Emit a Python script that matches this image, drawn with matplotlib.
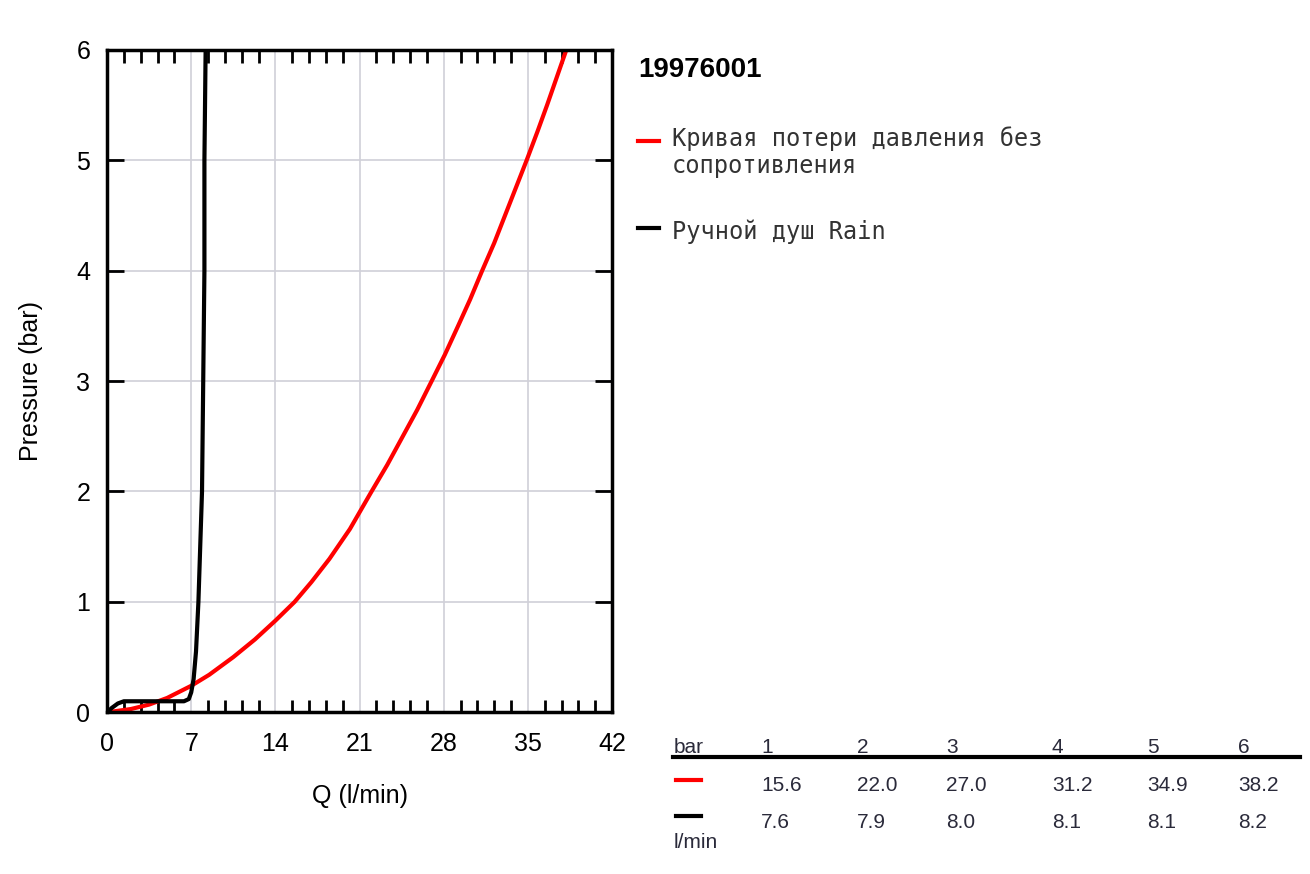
import matplotlib
matplotlib.use("Agg")
import matplotlib.pyplot as plt
from matplotlib.ticker import MultipleLocator

plt.rcParams["font.family"] = ["Liberation Sans", "DejaVu Sans"]

red_q = [0, 2, 3.5, 5, 7, 8.5, 10.5, 12.3, 14, 15.6, 17, 18.5, 20.2, 22, 23.3, 24.5, 25.8, 27, 28.1, 29.2, 30.2, 31.2, 32.2, 33.1, 34.0, 34.9, 35.8, 36.6, 37.4, 38.2]
red_p = [0, 0.03, 0.07, 0.13, 0.24, 0.34, 0.5, 0.66, 0.83, 1.0, 1.18, 1.39, 1.66, 2.0, 2.24, 2.48, 2.74, 3.0, 3.24, 3.5, 3.74, 4.0, 4.25, 4.5, 4.75, 5.0, 5.26, 5.5, 5.75, 6.0]
blk_q = [0, 0.4, 0.9, 1.4, 2.0, 6.4, 6.8, 7.0, 7.2, 7.4, 7.6, 7.9, 8.0, 8.1, 8.1, 8.2]
blk_p = [0, 0.04, 0.08, 0.1, 0.1, 0.1, 0.12, 0.18, 0.3, 0.55, 1.0, 2.0, 3.0, 4.0, 5.0, 6.0]
bars = ["1", "2", "3", "4", "5", "6"]
red_tab = ["15.6", "22.0", "27.0", "31.2", "34.9", "38.2"]
blk_tab = ["7.6", "7.9", "8.0", "8.1", "8.1", "8.2"]
title = "19976001"
lab_red = "Кривая потери давления без\nсопротивления"
lab_blk = "Ручной душ Rain"

fig = plt.figure(figsize=(13.1, 8.74), dpi=100)
ax = fig.add_axes([0.0817, 0.185, 0.3855, 0.758])
ax.plot(red_q, red_p, color="#ff0000", lw=3)
ax.plot(blk_q, blk_p, color="black", lw=3)
ax.set_xlim(0, 42); ax.set_ylim(0, 6)
ax.set_xticks(range(0, 43, 7)); ax.set_yticks(range(0, 7))
ax.xaxis.set_minor_locator(MultipleLocator(1.4))
ax.grid(True, color="#d0d0d8", lw=1.2)
ax.tick_params(axis="x", which="major", length=0, labelsize=18, pad=14)
ax.tick_params(axis="x", which="minor", direction="in", length=9, width=2, top=True, bottom=True)
ax.tick_params(axis="y", which="major", direction="in", length=12, width=2, left=True, right=True, labelsize=18, pad=12)
for s in ax.spines.values():
    s.set_linewidth(2.5)
ax.set_xlabel("Q (l/min)", fontsize=18, labelpad=20)
ax.set_ylabel("Pressure (bar)", fontsize=18, labelpad=24)

fig.text(0.487, 0.912, title, fontsize=20, fontweight="bold")
fig.lines.append(plt.Line2D([0.487, 0.503], [0.839, 0.839], color="#ff0000", lw=3, transform=fig.transFigure))
fig.text(0.513, 0.802, lab_red, fontsize=17, family="DejaVu Sans Mono", color="#333333", linespacing=1.15)
fig.lines.append(plt.Line2D([0.487, 0.503], [0.739, 0.739], color="black", lw=3, transform=fig.transFigure))
fig.text(0.513, 0.727, lab_blk, fontsize=17, family="DejaVu Sans Mono", color="#333333")

tc = "#2a2a3a"
cols = [0.581, 0.654, 0.722, 0.803, 0.876, 0.945]
fig.text(0.514, 0.138, "bar", fontsize=15, color=tc)
fig.lines.append(plt.Line2D([0.514, 0.992], [0.134, 0.134], color="black", lw=3, transform=fig.transFigure))
fig.lines.append(plt.Line2D([0.516, 0.535], [0.108, 0.108], color="#ff0000", lw=3, transform=fig.transFigure))
fig.lines.append(plt.Line2D([0.516, 0.535], [0.066, 0.066], color="black", lw=3, transform=fig.transFigure))
fig.text(0.514, 0.030, "l/min", fontsize=15, color=tc)
for x, b, r, k in zip(cols, bars, red_tab, blk_tab):
    fig.text(x, 0.138, b, fontsize=15, color=tc)
    fig.text(x, 0.095, r, fontsize=15, color=tc)
    fig.text(x, 0.053, k, fontsize=15, color=tc)

fig.savefig("out.png", dpi=100)
